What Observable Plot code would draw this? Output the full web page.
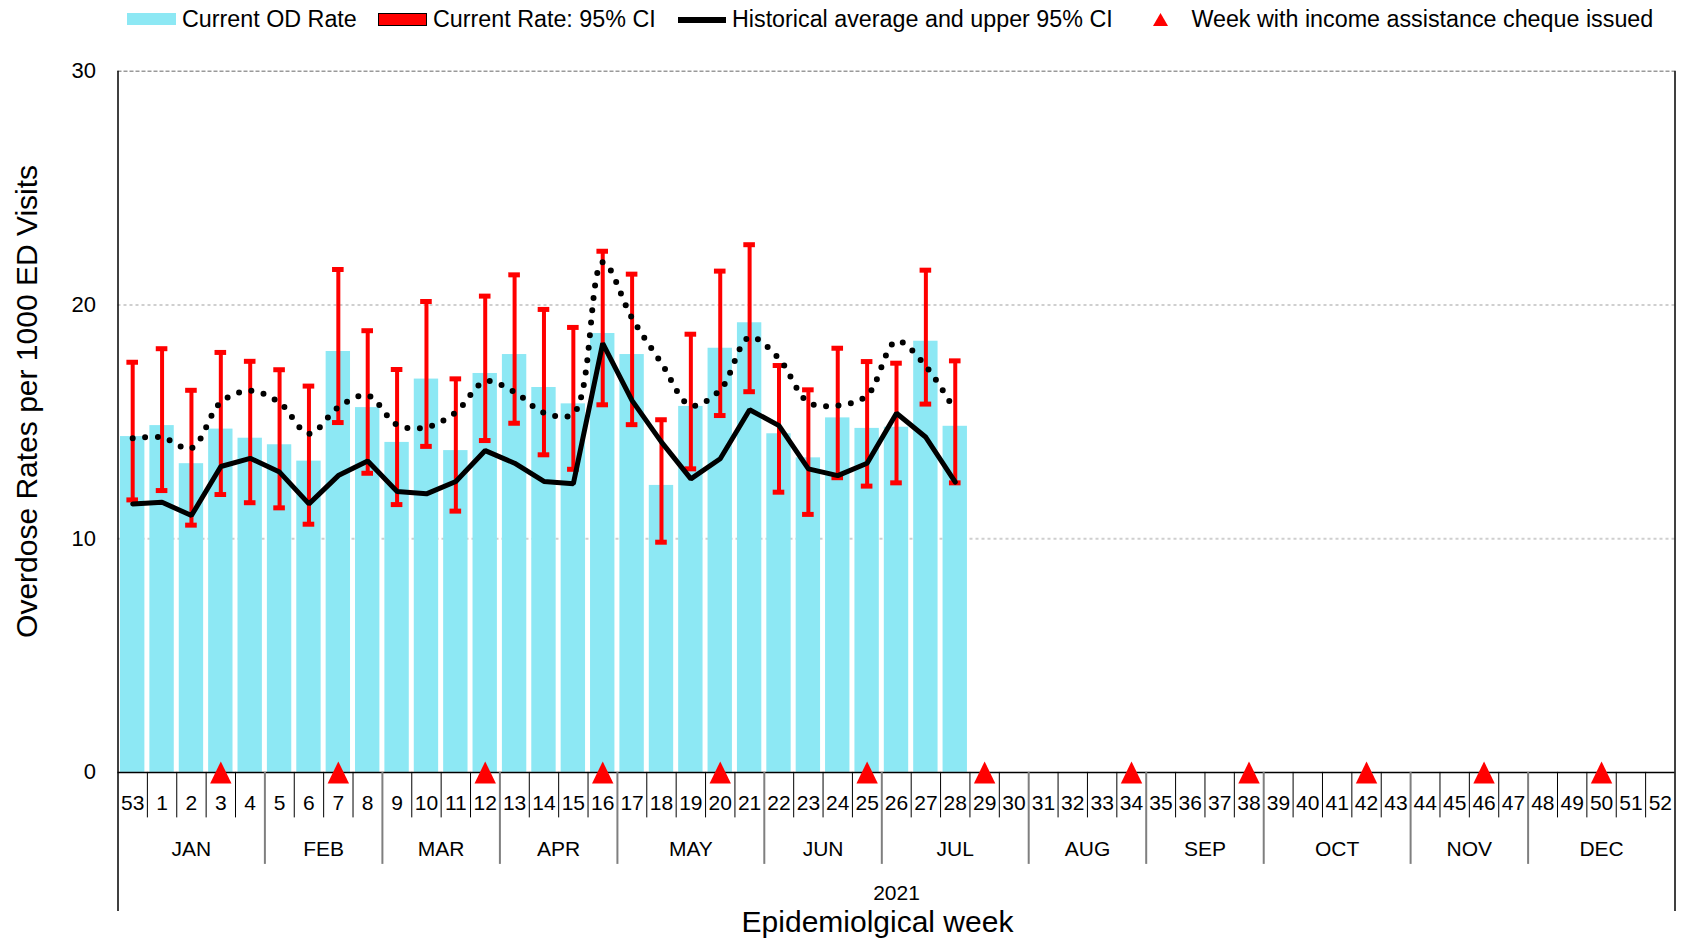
<!DOCTYPE html>
<html>
<head>
<meta charset="utf-8">
<script src="https://cdn.jsdelivr.net/npm/d3@7"></script>
<script src="https://cdn.jsdelivr.net/npm/@observablehq/plot@0.6"></script>
<style>
  body { margin: 0; background: #fff; font-family: 'Liberation Sans', Arial, sans-serif; }
  #legend { position: relative; width: 1681px; height: 40px; }
  #legend .t { position: absolute; top: 0; height: 38px; line-height: 38px; font-size: 23.3px; color: #000; white-space: nowrap; }
  #legend .s { position: absolute; box-sizing: border-box; }
  svg { display: block; }
</style>
</head>
<body>
<div id="legend"></div>
<div id="chart"></div>
<script>
// ---------- data ----------
const weekLabels = ["53","1","2","3","4","5","6","7","8","9","10","11","12","13","14","15","16","17","18","19","20","21","22","23","24","25","26","27","28","29","30","31","32","33","34","35","36","37","38","39","40","41","42","43","44","45","46","47","48","49","50","51","52"];
const monthNames = ["JAN","FEB","MAR","APR","MAY","JUN","JUL","AUG","SEP","OCT","NOV","DEC"];
const monthWeekCounts = [5,4,4,4,5,4,5,4,4,5,4,5];
const yearLabel = "2021";
const chequeWeeks = ["3","7","12","16","20","25","29","34","38","42","46","50"];

const dataWeeks = ["53","1","2","3","4","5","6","7","8","9","10","11","12","13","14","15","16","17","18","19","20","21","22","23","24","25","26","27","28"];
const currentRate = [14.37,14.84,13.21,14.69,14.30,14.02,13.32,18.01,15.61,14.12,16.83,13.77,17.07,17.88,16.47,15.77,18.78,17.88,12.28,15.66,18.15,19.24,14.49,13.46,15.17,14.72,14.77,18.45,14.81];
const ciLow  = [11.66,12.06,10.58,11.89,11.54,11.32,10.62,14.97,12.80,11.46,13.95,11.18,14.20,14.94,13.59,12.97,15.73,14.88,9.85,12.99,15.27,16.29,11.99,11.04,12.61,12.25,12.39,15.76,12.39];
const ciHigh = [17.55,18.13,16.35,17.97,17.59,17.23,16.53,21.52,18.90,17.24,20.15,16.84,20.38,21.29,19.81,19.04,22.30,21.32,15.09,18.75,21.45,22.58,17.41,16.37,18.15,17.58,17.51,21.49,17.61];
const histAvg = [11.49,11.56,10.99,13.09,13.44,12.85,11.49,12.70,13.32,12.02,11.92,12.45,13.77,13.23,12.45,12.35,18.36,15.91,14.13,12.56,13.42,15.52,14.84,12.99,12.70,13.23,15.37,14.34,12.42];
const histUpper = [14.30,14.33,13.87,15.84,16.33,15.82,14.49,15.62,16.13,14.87,14.77,15.41,16.73,16.27,15.39,15.35,21.83,19.43,17.51,15.70,16.37,18.62,17.70,15.84,15.70,16.13,18.45,17.38,15.46];

const legendLabels = ["Current OD Rate","Current Rate: 95% CI","Historical average and upper 95% CI","Week with income assistance cheque issued"];
const yTitle = "Overdose Rates per 1000 ED Visits";
const xTitle = "Epidemiolgical week";

// ---------- colours ----------
const CYAN = "#8de8f4", RED = "#ff0000";

// ---------- derived tables ----------
const idx = w => weekLabels.indexOf(w);
const rows = dataWeeks.map((w, k) => ({
  i: idx(w), rate: currentRate[k], lo: ciLow[k], hi: ciHigh[k], avg: histAvg[k], up: histUpper[k]
}));
const center = d => d.i + 0.5;

const monthStarts = [];
{ let s = 0; for (const c of monthWeekCounts) { monthStarts.push(s); s += c; } }
const monthCenters = monthStarts.map((s, k) => s + monthWeekCounts[k] / 2);
const monthBoundaries = monthStarts.slice(1);
const weekCenters = weekLabels.map((_, i) => i + 0.5);
const weekBoundaries = d3.range(1, weekLabels.length).filter(b => !monthBoundaries.includes(b));
const nWeeks = weekLabels.length;

const triangle = {
  draw(ctx, size) {
    const r = Math.sqrt(size / Math.PI);
    ctx.moveTo(0, -1.1 * r);
    ctx.lineTo(1.07 * r, 1.1 * r);
    ctx.lineTo(-1.07 * r, 1.1 * r);
    ctx.closePath();
  }
};

// ---------- legend (HTML) ----------
const L = document.getElementById("legend");
L.innerHTML = `
  <div class="s" style="left:127px;top:12.7px;width:49px;height:12.5px;background:${CYAN}"></div>
  <div class="t" style="left:182px">${legendLabels[0]}</div>
  <div class="s" style="left:377.6px;top:12.5px;width:49.5px;height:13.5px;background:${RED};border:1.5px solid #000"></div>
  <div class="t" style="left:433px">${legendLabels[1]}</div>
  <div class="s" style="left:677.6px;top:16.5px;width:48.2px;height:6px;background:#000"></div>
  <div class="t" style="left:732px">${legendLabels[2]}</div>
  <div class="s" style="left:1153px;top:13px;width:15px;height:13px;background:${RED};clip-path:polygon(50% 0,100% 100%,0 100%)"></div>
  <div class="t" style="left:1191.4px">${legendLabels[3]}</div>
`;

// ---------- chart ----------
const chart = Plot.plot({
  width: 1681,
  height: 898,
  marginTop: 30.8,
  marginBottom: 166.1,
  marginLeft: 117.5,
  marginRight: 6.5,
  style: { fontFamily: "'Liberation Sans', Arial, sans-serif", fontSize: "21px", background: "white", color: "black", overflow: "visible" },
  x: { type: "linear", domain: [0, nWeeks] },
  y: { type: "linear", domain: [0, 30] },
  marks: [
    Plot.gridY([10, 20], { stroke: "#cfcfcf", strokeOpacity: 1, strokeWidth: 2, strokeDasharray: "3,3" }),
    Plot.ruleY([30], { stroke: "#9a9a9a", strokeWidth: 1.5, strokeDasharray: "4,2" }),
    Plot.rectY(rows, { x1: "i", x2: d => d.i + 1, y: "rate", insetLeft: 2.5, insetRight: 2.5, fill: CYAN }),
    // axis frame lines
    Plot.ruleX([0, nWeeks], { stroke: "#000", strokeWidth: 1.5 }),
    Plot.ruleY([0], { stroke: "#000", strokeWidth: 1.5 }),
    // separators under the axis
    Plot.axisX({ ticks: weekBoundaries, tickSize: 45.5, tickFormat: () => "", stroke: "#000", strokeWidth: 1, label: null }),
    Plot.axisX({ ticks: monthBoundaries, tickSize: 92, tickFormat: () => "", stroke: "#7f7f7f", strokeWidth: 2, label: null }),
    Plot.axisX({ ticks: [0, nWeeks], tickSize: 139, tickFormat: () => "", stroke: "#000", strokeWidth: 1.5, label: null }),
    // labels under the axis
    Plot.axisX({ ticks: weekCenters, tickSize: 0, tickPadding: 22.3, fontSize: 21, tickFormat: v => weekLabels[v - 0.5], label: null }),
    Plot.axisX({ ticks: monthCenters, tickSize: 0, tickPadding: 68.6, fontSize: 21, tickFormat: v => monthNames[monthCenters.indexOf(v)], label: null }),
    Plot.axisX({ ticks: [nWeeks / 2], tickSize: 0, tickPadding: 112.5, fontSize: 21, tickFormat: () => yearLabel, label: null }),
    Plot.axisY({ ticks: [0, 10, 20, 30], tickSize: 0, tickPadding: 22, fontSize: 22, label: null }),
    // confidence intervals
    Plot.ruleX(rows, { x: center, y1: "lo", y2: "hi", stroke: RED, strokeWidth: 4 }),
    Plot.ruleY(rows, { y: "lo", x1: center, x2: center, insetLeft: -5.8, insetRight: -5.8, stroke: RED, strokeWidth: 5 }),
    Plot.ruleY(rows, { y: "hi", x1: center, x2: center, insetLeft: -5.8, insetRight: -5.8, stroke: RED, strokeWidth: 5 }),
    // historical lines
    Plot.line(rows, { x: center, y: "avg", stroke: "#000", strokeWidth: 5, strokeLinejoin: "miter" }),
    Plot.line(rows, { x: center, y: "up", curve: "catmull-rom", stroke: "#000", strokeWidth: 6, strokeDasharray: "0,12.5", strokeLinecap: "round" }),
    // cheque weeks
    Plot.dot(chequeWeeks, { x: w => idx(w) + 0.5, frameAnchor: "bottom", symbol: triangle, r: 10, fill: RED, stroke: "none" }),
    // titles
    Plot.text([yTitle], { text: d => d, frameAnchor: "left", textAnchor: "middle", lineAnchor: "middle", rotate: -90, dx: -90.5, dy: -20.4, fontSize: 30 }),
    Plot.text([xTitle], { text: d => d, frameAnchor: "bottom", textAnchor: "middle", dx: -19, dy: 150, fontSize: 30, lineAnchor: "middle" })
  ]
});
document.getElementById("chart").appendChild(chart);
</script>
</body>
</html>
